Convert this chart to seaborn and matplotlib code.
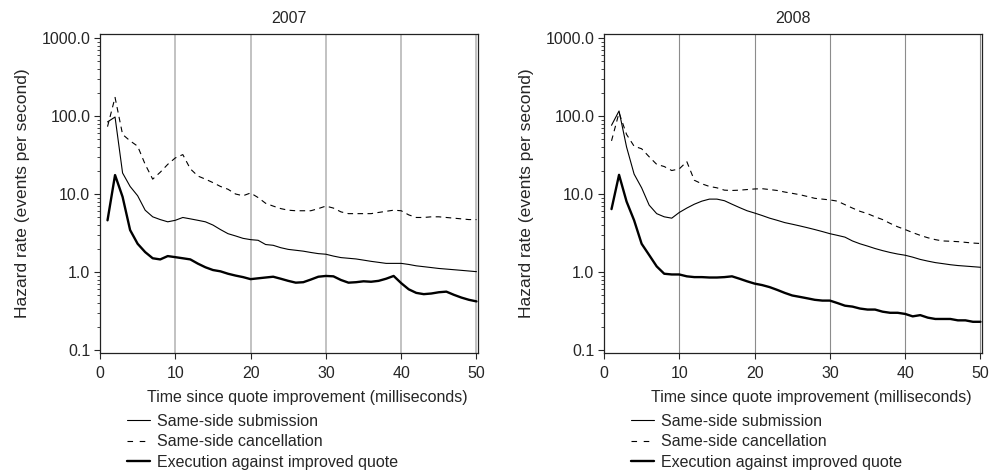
import numpy as np
import pandas as pd
import seaborn as sns
import matplotlib.pyplot as plt
from matplotlib.lines import Line2D
from matplotlib.ticker import FixedLocator, LogLocator, NullFormatter

sns.set_style('white')
plt.rcParams['font.family'] = ['Liberation Sans', 'DejaVu Sans']

ms = list(range(1, 51))

# 2007 panel (events per second)
sub07 = [84, 97, 18.6, 12.5, 9.5, 6.2, 5.1, 4.7, 4.4, 4.6,
         5.0, 4.8, 4.6, 4.4, 4.0, 3.5, 3.1, 2.9, 2.7, 2.6,
         2.55, 2.25, 2.2, 2.05, 1.95, 1.9, 1.85, 1.78, 1.72, 1.69,
         1.6, 1.53, 1.5, 1.47, 1.42, 1.37, 1.33, 1.29, 1.29, 1.29,
         1.25, 1.2, 1.17, 1.14, 1.11, 1.09, 1.07, 1.05, 1.03, 1.01]
can07 = [73, 173, 58, 48, 41, 24, 15.5, 19, 24, 29,
         32, 21, 17, 15.5, 14, 12.5, 11.5, 10, 9.5, 10.3,
         9.0, 7.6, 7.0, 6.5, 6.2, 6.1, 6.1, 6.1, 6.5, 7.0,
         6.6, 5.9, 5.6, 5.6, 5.6, 5.6, 5.8, 6.0, 6.2, 6.1,
         5.4, 5.0, 5.0, 5.1, 5.1, 5.0, 4.9, 4.8, 4.7, 4.7]
exe07 = [4.6, 17.5, 9.2, 3.45, 2.3, 1.8, 1.5, 1.45, 1.6, 1.55,
         1.5, 1.45, 1.28, 1.15, 1.06, 1.02, 0.95, 0.9, 0.86, 0.81,
         0.83, 0.85, 0.87, 0.82, 0.77, 0.73, 0.74, 0.8, 0.87, 0.89,
         0.88, 0.79, 0.73, 0.74, 0.76, 0.75, 0.77, 0.82, 0.89, 0.72,
         0.6, 0.54, 0.52, 0.53, 0.55, 0.56, 0.51, 0.47, 0.44, 0.42]

# 2008 panel
sub08 = [76, 116, 40, 18, 12, 7.2, 5.6, 5.1, 4.9, 5.8,
         6.6, 7.4, 8.1, 8.6, 8.6, 8.2, 7.4, 6.7, 6.1, 5.7,
         5.3, 4.9, 4.6, 4.3, 4.1, 3.9, 3.7, 3.5, 3.3, 3.1,
         2.95, 2.8, 2.5, 2.3, 2.15, 2.0, 1.88, 1.78, 1.7, 1.64,
         1.55, 1.45, 1.38, 1.32, 1.28, 1.24, 1.21, 1.19, 1.17, 1.15]
can08 = [48, 110, 58, 41, 38, 30, 24, 22.5, 20, 21,
         26, 15, 13.5, 12.5, 12, 11.2, 11.1, 11.2, 11.4, 11.6,
         11.7, 11.4, 11.1, 10.6, 10.2, 9.8, 9.3, 8.8, 8.6, 8.4,
         8.1, 7.3, 6.6, 6.0, 5.6, 5.1, 4.7, 4.2, 3.8, 3.5,
         3.2, 2.95, 2.75, 2.6, 2.5, 2.48, 2.45, 2.4, 2.35, 2.32]
exe08 = [6.4, 17.6, 8.0, 4.6, 2.3, 1.65, 1.18, 0.95, 0.93, 0.93,
         0.88, 0.86, 0.86, 0.85, 0.85, 0.86, 0.88, 0.82, 0.76, 0.71,
         0.68, 0.64, 0.59, 0.54, 0.5, 0.48, 0.46, 0.44, 0.43, 0.43,
         0.4, 0.37, 0.36, 0.34, 0.33, 0.33, 0.31, 0.3, 0.3, 0.29,
         0.27, 0.28, 0.26, 0.25, 0.25, 0.25, 0.24, 0.24, 0.23, 0.23]

series_names = ['Same-side submission', 'Same-side cancellation',
                'Execution against improved quote']
years = ['2007', '2008']
y_ticks = [0.1, 1, 10, 100, 1000]
y_labels = ['0.1', '1.0', '10.0', '100.0', '1000.0']

panels = {'2007': [sub07, can07, exe07], '2008': [sub08, can08, exe08]}
line_styles = [dict(lw=0.8, ls='-'), dict(lw=0.8, ls=(0, (5, 4))), dict(lw=1.7, ls='-')]
legend_styles = [dict(lw=0.8, ls='-'), dict(lw=0.8, ls=(0, (5, 6))), dict(lw=1.7, ls='-')]
grid_colors = {'2007': ('#bdbdbd', 1.3), '2008': ('#8c8c8c', 0.8)}

fs = 11.5
fig = plt.figure(figsize=(9.89, 4.71), dpi=100)
positions = {'2007': [0.1011, 0.2505, 0.3822, 0.6773],
             '2008': [0.6107, 0.2505, 0.3822, 0.6773]}

for year in years:
    ax = fig.add_axes(positions[year])
    df = pd.DataFrame({'ms': ms})
    for name, vals, st in zip(series_names, panels[year], line_styles):
        df[name] = vals
        sns.lineplot(data=df, x='ms', y=name, ax=ax, color='black',
                     linewidth=st['lw'], linestyle=st['ls'])
    ax.set_yscale('log')
    ax.set_xlim(0, 50.2)
    ax.set_ylim(0.0915, 1125)
    ax.yaxis.set_major_locator(FixedLocator(y_ticks))
    ax.set_yticklabels(y_labels)
    ax.yaxis.set_minor_locator(LogLocator(base=10, subs=np.arange(2, 10)))
    ax.yaxis.set_minor_formatter(NullFormatter())
    ax.set_xticks([0, 10, 20, 30, 40, 50])
    ax.tick_params(axis='both', which='major', direction='out', length=4,
                   width=0.8, labelsize=fs, left=True, bottom=True, pad=3)
    ax.tick_params(axis='x', which='major', pad=5)
    ax.tick_params(axis='y', which='minor', direction='out', length=2,
                   width=0.6, left=True)
    gc, gw = grid_colors[year]
    ax.grid(False)
    for gx in [10, 20, 30, 40, 50]:
        ax.axvline(gx, color=gc, lw=gw, zorder=0)
    for sp in ax.spines.values():
        sp.set_color('#222222')
        sp.set_linewidth(0.9)
    ax.set_title(year, fontsize=fs, pad=8)
    ax.set_ylabel('Hazard rate (events per second)', fontsize=fs + 1, labelpad=8)
    ax.set_xlabel('Time since quote improvement (milliseconds)', fontsize=fs)
    ax.xaxis.set_label_coords(0.548, -0.117)
    handles = [Line2D([], [], color='black', lw=st['lw'], ls=st['ls'])
               for st in legend_styles]
    ax.legend(handles, series_names, loc='upper left', bbox_to_anchor=(0.072, -0.19),
              frameon=False, fontsize=fs, borderaxespad=0, borderpad=0,
              handlelength=1.45, handletextpad=0.4, labelspacing=0.35)

fig.savefig('out.png', dpi=100)
